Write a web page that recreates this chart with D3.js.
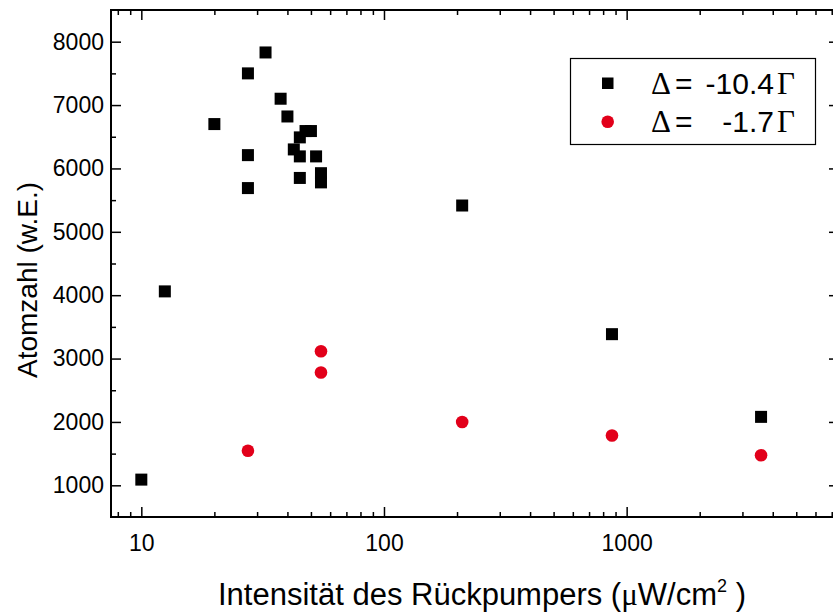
<!DOCTYPE html>
<html>
<head>
<meta charset="utf-8">
<script src="https://cdn.jsdelivr.net/npm/d3@7"></script>
<style>
    body { margin: 0; background: #fff; }
    svg { display: block; font-family: 'Liberation Sans', Arial, sans-serif; }
</style>
</head>
<body>
<svg id="chart" width="833" height="614"></svg>
<script>
// Δ = -10.4 Γ (squares)
const squareX = [10, 12.5, 20, 27.5, 27.5, 27.5, 32.5, 37.5, 40, 42.5, 45, 47.5, 50, 45, 52.5, 45, 55, 55, 210, 870, 3580];
const squareY = [1090, 4060, 6700, 7500, 6210, 5690, 7830, 7100, 6820, 6300, 6490, 6590, 6590, 6190, 6190, 5850, 5925, 5780, 5415, 3385, 2080];
// Δ = -1.7 Γ (circles)
const circleX = [27.5, 55, 55, 210, 870, 3580];
const circleY = [1545, 3115, 2780, 2000, 1785, 1475];

const legendValues = ['-10.4', '-1.7'];
const xMajor = [10, 100, 1000];
const xMinor = [8, 9, 20, 30, 40, 50, 60, 70, 80, 90, 200, 300, 400, 500, 600, 700, 800, 900, 2000, 3000, 4000, 5000, 6000, 7000];
const yMajor = [1000, 2000, 3000, 4000, 5000, 6000, 7000, 8000];
const yMinor = [1500, 2500, 3500, 4500, 5500, 6500, 7500];

const red = '#e2001a';
const sansFont = "'Liberation Sans', Arial, sans-serif";
const serifFont = "'Liberation Serif', 'Times New Roman', serif";
const plot = { x0: 111, x1: 839, y0: 10, y1: 517 };

const svg = d3.select('#chart');

const x = d3.scaleLog().domain([7.5, 7500]).range([plot.x0, plot.x1]);
const y = d3.scaleLinear().domain([500, 8500]).range([plot.y1, plot.y0]);

const addAxis = (axis, transform, showLabels) => {
    const g = svg.append('g').attr('transform', transform).call(axis);
    g.attr('font-family', sansFont).attr('font-size', 23);
    g.select('.domain').remove();
    g.selectAll('line').attr('stroke', '#000').attr('stroke-width', 1.5);
    g.selectAll('text')
        .attr('fill', '#000')
        .style('display', showLabels ? null : 'none');
    return g;
};

// bottom + top
addAxis(d3.axisBottom(x).tickValues(xMajor).tickFormat(d3.format('d')).tickSize(-10).tickPadding(18), `translate(0,${plot.y1})`, true);
addAxis(d3.axisBottom(x).tickValues(xMinor).tickFormat('').tickSize(-5), `translate(0,${plot.y1})`, false);
addAxis(d3.axisTop(x).tickValues(xMajor).tickSize(-10), `translate(0,${plot.y0})`, false);
addAxis(d3.axisTop(x).tickValues(xMinor).tickSize(-5), `translate(0,${plot.y0})`, false);

// left + right
addAxis(d3.axisLeft(y).tickValues(yMajor).tickFormat(d3.format('d')).tickSize(-10).tickPadding(7), `translate(${plot.x0},0)`, true);
addAxis(d3.axisLeft(y).tickValues(yMinor).tickSize(-5), `translate(${plot.x0},0)`, false);
addAxis(d3.axisRight(y).tickValues(yMajor).tickSize(-10), `translate(${plot.x1},0)`, false);
addAxis(d3.axisRight(y).tickValues(yMinor).tickSize(-5), `translate(${plot.x1},0)`, false);

svg.append('rect')
    .attr('x', plot.x0)
    .attr('y', plot.y0)
    .attr('width', plot.x1 - plot.x0)
    .attr('height', plot.y1 - plot.y0)
    .attr('fill', 'none')
    .attr('stroke', '#000')
    .attr('stroke-width', 2);

// points
const size = 12;
svg.append('g')
    .selectAll('rect')
    .data(squareX.map((d, i) => [d, squareY[i]]))
    .join('rect')
    .attr('x', d => x(d[0]) - size / 2)
    .attr('y', d => y(d[1]) - size / 2)
    .attr('width', size)
    .attr('height', size)
    .attr('fill', '#000');

svg.append('g')
    .selectAll('circle')
    .data(circleX.map((d, i) => [d, circleY[i]]))
    .join('circle')
    .attr('cx', d => x(d[0]))
    .attr('cy', d => y(d[1]))
    .attr('r', 6.3)
    .attr('fill', red);

// axis titles
svg.append('text')
    .attr('transform', 'translate(37,280) rotate(-90)')
    .attr('text-anchor', 'middle')
    .style('font-size', '28px')
    .text('Atomzahl (w.E.)');

const xTitle = svg.append('text')
    .attr('x', 218)
    .attr('y', 605)
    .style('font-size', '31px');
xTitle.append('tspan').text('Intensität des Rückpumpers (');
xTitle.append('tspan').style('font-family', serifFont).text('μ');
xTitle.append('tspan').text('W/cm');
xTitle.append('tspan').attr('dy', -13).style('font-size', '18px').text('2');
xTitle.append('tspan').attr('dy', 13).text(' )');

// legend
const legend = svg.append('g');
legend.append('rect')
    .attr('x', 570.5)
    .attr('y', 58.5)
    .attr('width', 245)
    .attr('height', 86)
    .attr('fill', '#fff')
    .attr('stroke', '#000')
    .attr('stroke-width', 1.2);

legend.append('rect')
    .attr('x', 602)
    .attr('y', 77.5)
    .attr('width', 11.5)
    .attr('height', 11.5)
    .attr('fill', '#000');
legend.append('circle')
    .attr('cx', 607.7)
    .attr('cy', 121.7)
    .attr('r', 6.3)
    .attr('fill', red);

legendValues.forEach((v, i) => {
    const baseY = [93.5, 132][i];
    legend.append('text')
        .attr('x', 651)
        .attr('y', baseY)
        .style('font-family', serifFont)
        .style('font-size', '31px')
        .text('Δ');
    legend.append('text')
        .attr('x', 675)
        .attr('y', baseY)
        .style('font-size', '30px')
        .text('=');
    legend.append('text')
        .attr('x', 774)
        .attr('y', baseY)
        .attr('text-anchor', 'end')
        .style('font-size', '30px')
        .text(v);
    legend.append('text')
        .attr('x', 777)
        .attr('y', baseY)
        .style('font-family', serifFont)
        .style('font-size', '31px')
        .text('Γ');
});
</script>
</body>
</html>
